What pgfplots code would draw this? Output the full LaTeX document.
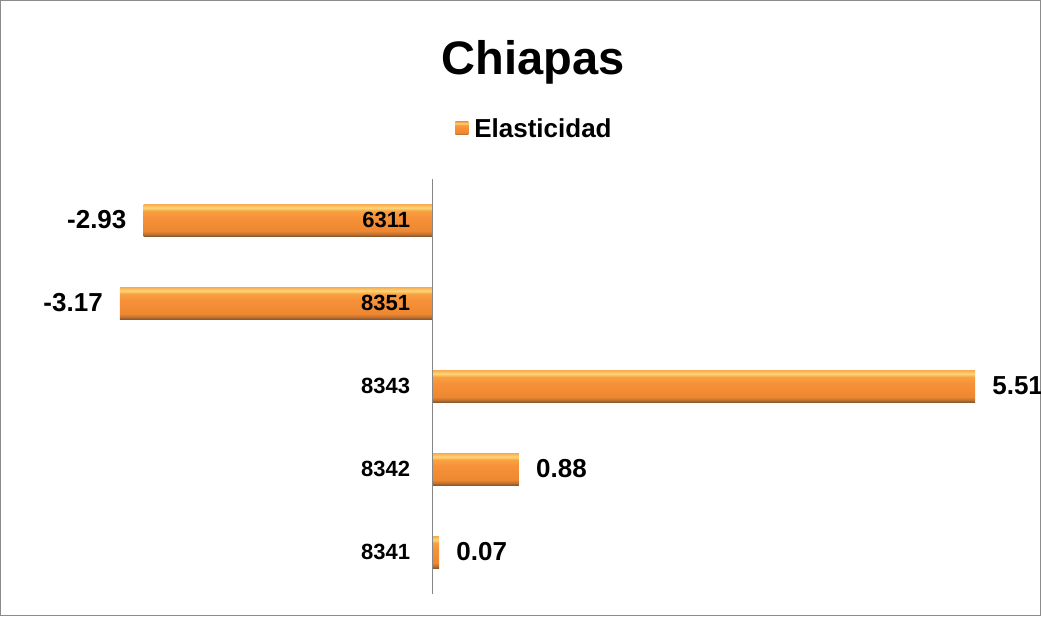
\documentclass[border=0pt]{standalone}
\usepackage{pgfplots}
\pgfplotsset{compat=1.18}
\usepackage{fontspec}
\setmainfont{Liberation Sans}
\definecolor{axiscol}{HTML}{868686}
\definecolor{framecol}{HTML}{8C8C8C}
\definecolor{sA}{HTML}{8A5A30}
\definecolor{sB}{HTML}{C07030}
\definecolor{sC}{HTML}{EE8830}
\definecolor{sD}{HTML}{F7923A}
\definecolor{sE}{HTML}{F8A040}
\definecolor{sF}{HTML}{FDD578}
\definecolor{sG}{HTML}{FBC060}
\definecolor{sH}{HTML}{F8A850}
\pgfdeclareverticalshading{barshade}{100bp}{color(0bp)=(sA); color(25bp)=(sA); color(28bp)=(sB); color(33bp)=(sC); color(55bp)=(sD); color(64bp)=(sE); color(69bp)=(sF); color(72bp)=(sG); color(75bp)=(sH); color(100bp)=(sH)}
\begin{document}
\begin{tikzpicture}[x=1pt,y=1pt]
\path[use as bounding box] (0,0) rectangle (1041,616);
\draw[framecol, line width=1pt] (0.5,0.5) rectangle (1040.5,615.5);
\node[font=\bfseries\fontsize{47}{50}\selectfont] at (533,554) {Chiapas};
\begin{axis}[
  at={(117pt,22.5pt)}, anchor=south west,
  scale only axis, width=867pt, height=415pt,
  xmin=-3.2, xmax=5.6, ymin=-0.5, ymax=4.5,
  enlargelimits=false,
  axis on top,
  axis x line=none, axis y line=center,
  axis line style={-, draw=axiscol, line width=1pt},
  ytick={0,1,2,3,4},
  yticklabels={8341,8342,8343,8351,6311},
  major tick length=0pt,
  yticklabel style={font=\bfseries\fontsize{22}{24}\selectfont, inner xsep=0pt, xshift=-22pt, anchor=east},
  bar width=32pt,
  clip=false,
  mybar/.style={xbar, draw=none, shade, shading=barshade,
    nodes near coords={\pgfmathprintnumber[fixed,precision=2,zerofill,assume math mode=true]{\pgfplotspointmeta}},
    nodes near coords align={horizontal},
    every node near coord/.append style={font=\bfseries\fontsize{26}{28}\selectfont, inner xsep=17pt, text=black}},
  legend style={at={(0.4815,1.1205)}, anchor=center, draw=none, fill=none,
    font=\bfseries\fontsize{26}{28}\selectfont, inner sep=0pt},
  legend image code/.code={\shade[shading=barshade] (0pt,-6.5pt) rectangle (13pt,6.5pt); \path (17pt,0pt);},
]
\addplot[mybar] coordinates {(5.51,2)};
\addlegendentry{Elasticidad}
\addplot[mybar, forget plot] coordinates {(0.07,0)};
\addplot[mybar, forget plot] coordinates {(0.88,1)};
\addplot[mybar, forget plot] coordinates {(-3.17,3)};
\addplot[mybar, forget plot] coordinates {(-2.93,4)};
\end{axis}
\end{tikzpicture}
\end{document}
